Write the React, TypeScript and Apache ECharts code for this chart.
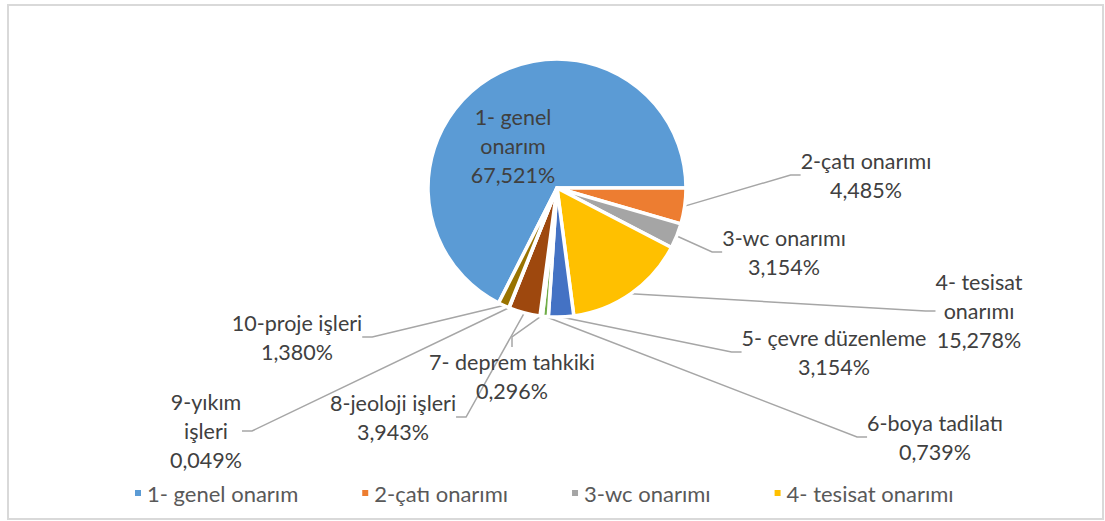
import React, { useEffect, useRef } from "react";
import * as echarts from "echarts";

const categories = [
  "1- genel onarım",
  "2-çatı onarımı",
  "3-wc onarımı",
  "4- tesisat onarımı",
  "5- çevre düzenleme",
  "6-boya tadilatı",
  "7- deprem tahkiki",
  "8-jeoloji işleri",
  "9-yıkım işleri",
  "10-proje işleri",
];
const labelNames = [
  "1- genel\nonarım",
  "2-çatı onarımı",
  "3-wc onarımı",
  "4- tesisat\nonarımı",
  "5- çevre düzenleme",
  "6-boya tadilatı",
  "7- deprem tahkiki",
  "8-jeoloji işleri",
  "9-yıkım\nişleri",
  "10-proje işleri",
];
const values = [67.521, 4.485, 3.154, 15.278, 3.154, 0.739, 0.296, 3.943, 0.049, 1.38];
const legendItems = categories.slice(0, 4);

const colors = [
  "#5B9BD5", "#ED7D31", "#A5A5A5", "#FFC000", "#4472C4",
  "#70AD47", "#264478", "#9E480E", "#636363", "#997300",
];

// label anchor (centre) positions, layout only
const labelPos: [number, number][] = [
  [513, 146],
  [866, 175],
  [784, 252],
  [979, 311],
  [834, 352],
  [935, 437],
  [512, 376],
  [393, 417],
  [206, 431],
  [297, 337],
];

const FONT = "Lato, 'Noto Sans', sans-serif";

export default function App() {
  const ref = useRef<HTMLDivElement>(null);
  useEffect(() => {
    if (!ref.current) return;
    const chart = echarts.init(ref.current, null, { renderer: "svg" });
    const total = values.reduce((a, b) => a + b, 0);
    chart.setOption({
      animation: false,
      backgroundColor: "#ffffff",
      color: colors,
      textStyle: { fontFamily: FONT },
      graphic: [
        {
          type: "rect",
          shape: { x: 8, y: 5, width: 1095, height: 514 },
          style: { fill: "none", stroke: "#D9D9D9", lineWidth: 2 },
          silent: true,
        },
      ],
      legend: {
        data: legendItems,
        left: 128,
        bottom: 12,
        icon: "rect",
        itemWidth: 8,
        itemHeight: 8,
        itemGap: 62,
        selectedMode: false,
        textStyle: { fontSize: 22, color: "#595959", fontFamily: FONT },
      },
      series: [
        {
          type: "pie",
          center: [557, 188],
          radius: 129,
          startAngle: (values[0] / total) * 360,
          clockwise: true,
          avoidLabelOverlap: false,
          itemStyle: { borderColor: "#ffffff", borderWidth: 3.5 },
          emphasis: { disabled: true },
          label: {
            show: true,
            position: "outside",
            fontSize: 21.5,
            lineHeight: 29,
            color: "#404040",
            fontFamily: FONT,
            align: "center",
            formatter: (p: any) =>
              labelNames[p.dataIndex] + "\n" + p.value.toFixed(3).replace(".", ",") + "%",
          },
          labelLine: {
            show: true,
            length: 10,
            length2: 10,
            lineStyle: { color: "#A6A6A6", width: 1.5 },
          },
          labelLayout: (params: any) => {
            const pos = labelPos[params.dataIndex];
            return {
              x: pos[0],
              y: pos[1],
              align: "center",
              verticalAlign: "middle",
            };
          },
          data: categories.map((name, i) => ({
            name,
            value: values[i],
            labelLine: i === 0 ? { show: false } : undefined,
          })),
        },
      ],
    });
    return () => chart.dispose();
  }, []);
  return (
    <div
      ref={ref}
      style={{ position: "fixed", left: 0, top: 0, width: 1105, height: 521 }}
    />
  );
}
